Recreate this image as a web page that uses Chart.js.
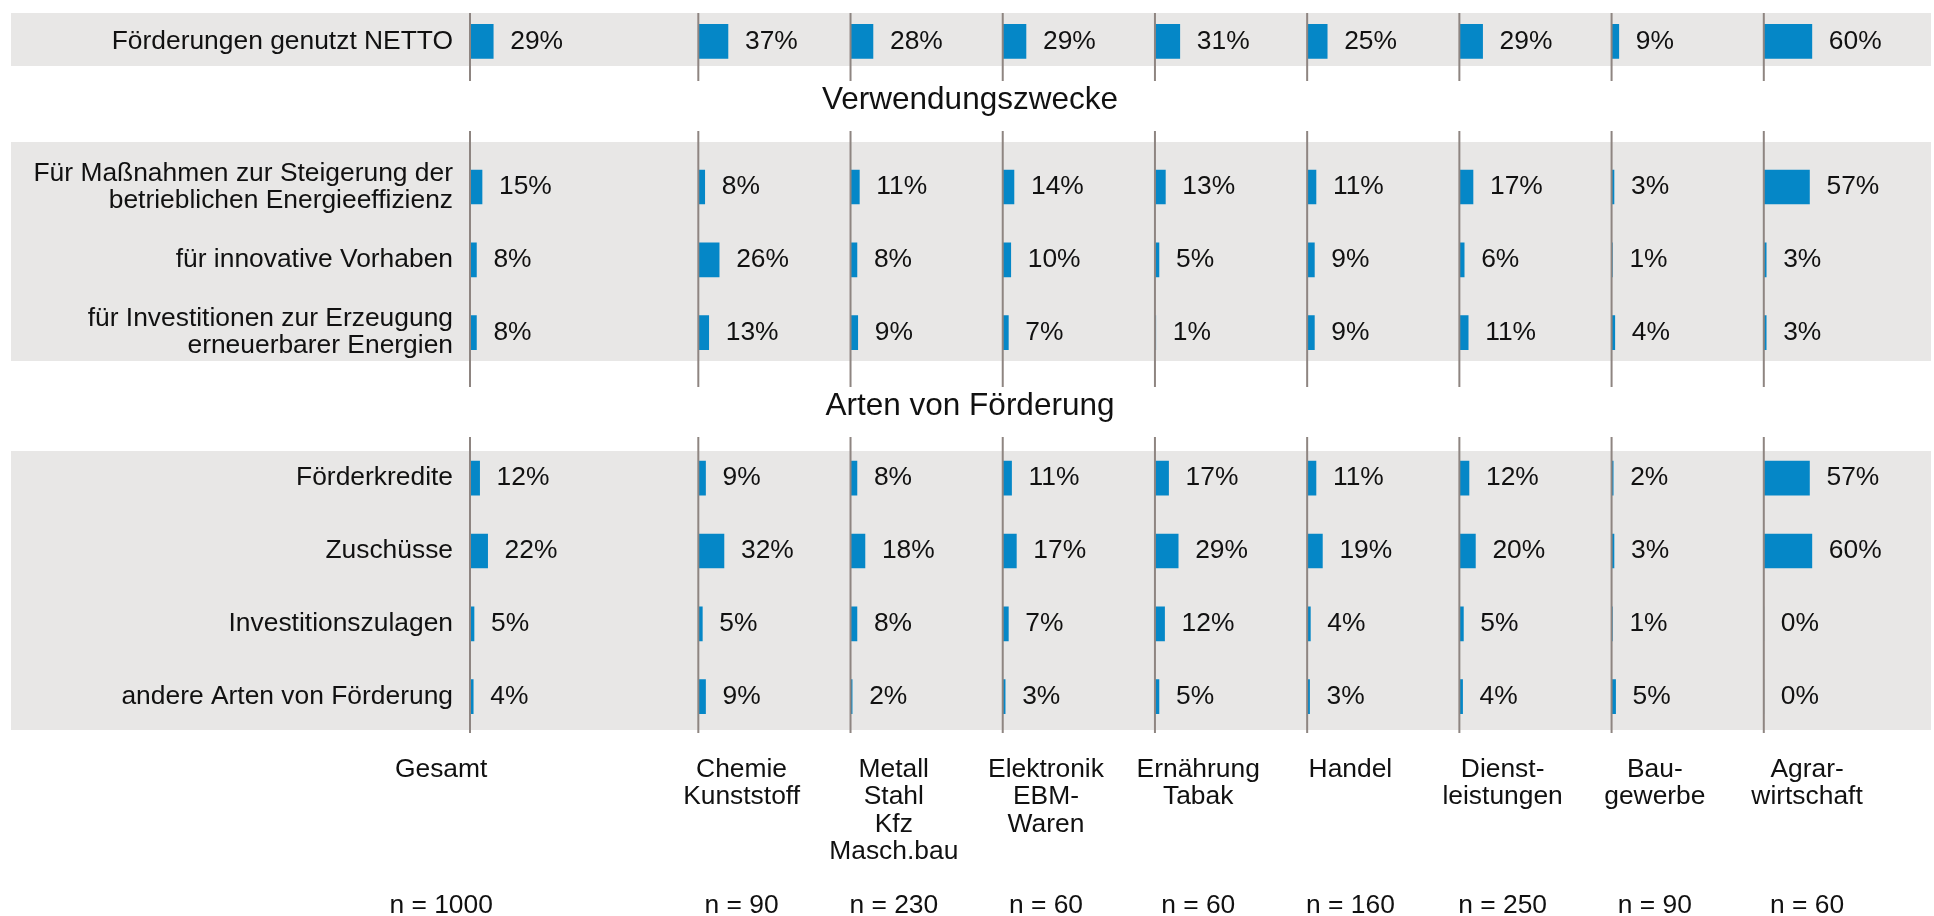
<!DOCTYPE html>
<html>
<head>
<meta charset="utf-8">
<script src="https://cdn.jsdelivr.net/npm/chart.js@4.4.1/dist/chart.umd.min.js"></script>
<style>
  html, body { margin: 0; padding: 0; background: #ffffff; overflow: hidden; }
  #wrap { width: 1934px; height: 916px; position: relative; }
</style>
</head>
<body>
<div id="wrap"><canvas id="c" width="1934" height="916"></canvas></div>
<script>
// ---------------- DATA ----------------
const rowLabels = [
  'Förderungen genutzt NETTO',
  'Für Maßnahmen zur Steigerung der\nbetrieblichen Energieeffizienz',
  'für innovative Vorhaben',
  'für Investitionen zur Erzeugung\nerneuerbarer Energien',
  'Förderkredite',
  'Zuschüsse',
  'Investitionszulagen',
  'andere Arten von Förderung'
];
const sectionTitles = ['Verwendungszwecke', 'Arten von Förderung'];
const sectionRows = [[0], [1, 2, 3], [4, 5, 6, 7]];

const branches = [
  'Gesamt',
  'Chemie\nKunststoff',
  'Metall\nStahl\nKfz\nMasch.bau',
  'Elektronik\nEBM-\nWaren',
  'Ernährung\nTabak',
  'Handel',
  'Dienst-\nleistungen',
  'Bau-\ngewerbe',
  'Agrar-\nwirtschaft'
];
const sampleSizes = [1000, 90, 230, 60, 60, 160, 250, 90, 60];

const gesamt     = [29, 15,  8,  8, 12, 22,  5, 4];
const chemie     = [37,  8, 26, 13,  9, 32,  5, 9];
const metall     = [28, 11,  8,  9,  8, 18,  8, 2];
const elektronik = [29, 14, 10,  7, 11, 17,  7, 3];
const ernaehrung = [31, 13,  5,  1, 17, 29, 12, 5];
const handel     = [25, 11,  9,  9, 11, 19,  4, 3];
const dienst     = [29, 17,  6, 11, 12, 20,  5, 4];
const bau        = [ 9,  3,  1,  4,  2,  3,  1, 5];
const agrar      = [60, 57,  3,  3, 57, 60,  0, 0];
const seriesValues = [gesamt, chemie, metall, elektronik, ernaehrung, handel, dienst, bau, agrar];

// ---------------- STYLE / LAYOUT ----------------
const FONT = '"Liberation Sans", Arial, Helvetica, sans-serif';
const FS = 26.4;
const BLUE = '#0587c7';
const BAND = '#e8e7e6';
const LINE = '#8e8581';
const TEXT = '#111111';

// y category slots (with empty slots between sections)
const yLabels = [];
const rowSlot = [];
const sectionGapSlot = [];
sectionRows.forEach((rows, si) => {
  if (si > 0) { sectionGapSlot.push(yLabels.length); yLabels.push(''); }
  rows.forEach(r => { rowSlot[r] = yLabels.length; yLabels.push(rowLabels[r].split('\n')); });
});

const datasets = seriesValues.map((vals, b) => {
  const data = yLabels.map(() => null);
  vals.forEach((v, r) => { data[rowSlot[r]] = v; });
  return {
    label: branches[b].replace(/\n/g, ' '),
    data,
    xAxisID: 'x' + b,
    backgroundColor: BLUE,
    borderWidth: 0,
    barThickness: 34,
    grouped: false
  };
});

const scales = {};
branches.forEach((_, b) => {
  scales['x' + b] = {
    type: 'linear',
    position: 'bottom',
    stack: 'panels',
    stackWeight: b === 0 ? 1.5 : 1,
    min: 0,
    max: b === 0 ? 285 : 190,
    display: false
  };
});
scales.y = {
  type: 'category',
  position: 'left',
  offset: true,
  grid: { display: false, drawTicks: false },
  border: { display: false },
  ticks: {
    autoSkip: false,
    padding: 17,
    color: TEXT,
    font: { family: FONT, size: FS, lineHeight: 1.03 }
  },
  afterFit: s => { s.width = 470; s.paddingTop = 0; s.paddingBottom = 0; }
};

// section frame offsets (px) relative to first / last row centre
const frames = [
  { bandTop: 28.4, bandBottom: 24.6, lineTop: 28.4, lineBottom: 39.6 },
  { bandTop: 45,   bandBottom: 28.4, lineTop: 56,   lineBottom: 54.4 },
  { bandTop: 27.2, bandBottom: 33.4, lineTop: 41.2, lineBottom: 36.4 }
];
const titleOffsets = [-14, 1];

const decor = {
  id: 'decor',
  beforeDraw(chart) {
    const { ctx } = chart;
    const y = chart.scales.y;
    ctx.save();
    ctx.fillStyle = '#ffffff';
    ctx.fillRect(0, 0, chart.width, chart.height);
    ctx.fillStyle = BAND;
    sectionRows.forEach((rows, si) => {
      const top = y.getPixelForValue(rowSlot[rows[0]]) - frames[si].bandTop;
      const bottom = y.getPixelForValue(rowSlot[rows[rows.length - 1]]) + frames[si].bandBottom;
      ctx.fillRect(11, top, chart.width - 14, bottom - top);
    });
    ctx.restore();
  },
  afterDatasetsDraw(chart) {
    const { ctx } = chart;
    const y = chart.scales.y;
    ctx.save();
    // vertical zero lines per panel
    ctx.strokeStyle = LINE;
    ctx.lineWidth = 2;
    branches.forEach((_, b) => {
      const px = chart.scales['x' + b].getPixelForValue(0);
      sectionRows.forEach((rows, si) => {
        const top = y.getPixelForValue(rowSlot[rows[0]]) - frames[si].lineTop;
        const bottom = y.getPixelForValue(rowSlot[rows[rows.length - 1]]) + frames[si].lineBottom;
        ctx.beginPath();
        ctx.moveTo(px, top);
        ctx.lineTo(px, bottom);
        ctx.stroke();
      });
    });
    // value labels
    ctx.fillStyle = TEXT;
    ctx.font = FS + 'px ' + FONT;
    ctx.textAlign = 'left';
    ctx.textBaseline = 'middle';
    chart.data.datasets.forEach((ds, di) => {
      const meta = chart.getDatasetMeta(di);
      meta.data.forEach((el, i) => {
        const v = ds.data[i];
        if (v === null || v === undefined) return;
        ctx.fillText(v + '%', el.x + 17, el.y);
      });
    });
    ctx.restore();
  },
  afterDraw(chart) {
    const { ctx } = chart;
    const y = chart.scales.y;
    ctx.save();
    ctx.fillStyle = TEXT;
    ctx.textAlign = 'center';
    ctx.textBaseline = 'middle';
    // section titles
    ctx.font = '31.5px ' + FONT;
    sectionTitles.forEach((t, i) => {
      ctx.fillText(t, chart.width / 2 + 3, y.getPixelForValue(sectionGapSlot[i]) + titleOffsets[i]);
    });
    // branch labels and sample sizes
    ctx.font = FS + 'px ' + FONT;
    const area = chart.chartArea;
    branches.forEach((name, b) => {
      const sc = chart.scales['x' + b];
      const cx = sc.getPixelForValue(b === 0 ? -36 : 54);
      name.split('\n').forEach((line, li) => {
        ctx.fillText(line, cx, area.bottom + 37 + li * 27.2);
      });
      ctx.fillText('n = ' + sampleSizes[b], cx, area.bottom + 173);
    });
    ctx.restore();
  }
};

Chart.defaults.color = TEXT;
Chart.defaults.font.family = FONT;

new Chart(document.getElementById('c'), {
  type: 'bar',
  data: { labels: yLabels, datasets },
  options: {
    indexAxis: 'y',
    responsive: false,
    animation: false,
    devicePixelRatio: 1,
    layout: { padding: { top: 5, right: 18, bottom: 183, left: 0 } },
    plugins: { legend: { display: false }, tooltip: { enabled: false } },
    scales
  },
  plugins: [decor]
});
</script>
</body>
</html>
